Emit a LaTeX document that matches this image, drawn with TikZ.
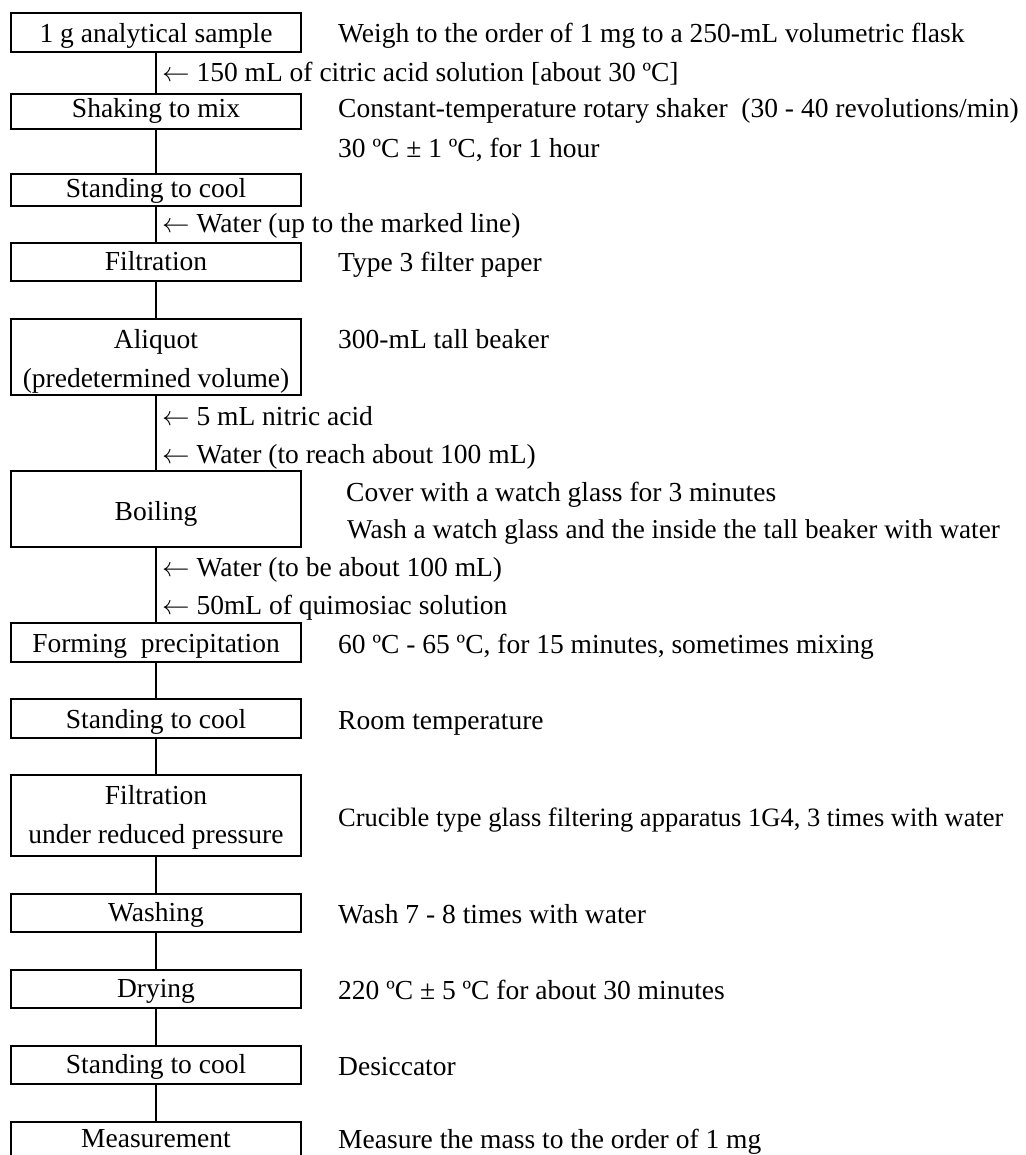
\RequirePackage{fix-cm}
\documentclass[tikz,border=0pt]{standalone}
\usepackage{fontspec}
\setmainfont{Liberation Serif}
\begin{document}
\begin{tikzpicture}[x=1pt,y=-1pt,
  every node/.style={font=\fontsize{27.5}{39}\selectfont, inner sep=0pt},
  stepbox/.style n args={3}{draw, line width=1.8pt, rectangle, minimum width=290pt,
     minimum height=#2-#1, text height=#3-#1, text depth=#2-#3},
  conn/.style={line width=1.8pt},
  note/.style={anchor=base west},
]
\path[use as bounding box, clip] (0,0) rectangle (1025,1155);

% process boxes: stepbox={top}{bottom}{baseline}
\node[stepbox={13}{52}{43}]     (b1)  at (156,32.5)  {1 g analytical sample};
\node[stepbox={94}{129}{118}]   (b2)  at (156,111.5) {Shaking to mix};
\node[stepbox={174}{206}{197.5}]  (b3)  at (156,190) {Standing to cool};
\node[stepbox={243}{281}{271}]  (b4)  at (156,262)   {Filtration};
\node[stepbox={319}{395}{387}]  (b5)  at (156,357)   {\begin{tabular}[b]{@{}c@{}}Aliquot\\(predetermined volume)\end{tabular}};
\node[stepbox={471}{547}{520}]  (b6)  at (156,509)   {Boiling};
\node[stepbox={623}{662}{652}]  (b7)  at (156,642.5) {Forming\ \ precipitation};
\node[stepbox={699}{738}{728}]  (b8)  at (156,718.5) {Standing to cool};
\node[stepbox={775}{856}{843}]  (b9)  at (156,815.5) {\begin{tabular}[b]{@{}c@{}}Filtration\\under reduced pressure\end{tabular}};
\node[stepbox={894}{932}{921}]  (b10) at (156,913)   {Washing};
\node[stepbox={970}{1008}{997}] (b11) at (156,989)   {Drying};
\node[stepbox={1046}{1084}{1073}] (b12) at (156,1065) {Standing to cool};
\node[stepbox={1122}{1172}{1147}] (b13) at (156,1147) {Measurement};

% connectors
\foreach \a/\b in {b1/b2,b2/b3,b3/b4,b4/b5,b5/b6,b6/b7,b7/b8,b8/b9,b9/b10,b10/b11,b11/b12,b12/b13}
  \draw[conn] (\a) -- (\b);

% additions along the flow
\node[note] (a1) at (162,82)  {$\leftarrow$ 150 mL of citric acid solution [about 30 ºC]};
\node[note] (a2) at (162,233) {$\leftarrow$ Water (up to the marked line)};
\node[note] (a3) at (162,425) {$\leftarrow$ 5 mL nitric acid};
\node[note] (a4) at (162,463) {$\leftarrow$ Water (to reach about 100 mL)};
\node[note] (a5) at (162,576) {$\leftarrow$ Water (to be about 100 mL)};
\node[note] (a6) at (162,614) {$\leftarrow$ 50mL of quimosiac solution};

% conditions
\node[note] (r1)  at (338,43)   {Weigh to the order of 1 mg to a 250-mL volumetric flask};
\node[note] (r2)  at (338,118)  {Constant-temperature rotary shaker\ \ (30 - 40 revolutions/min)};
\node[note] (r3)  at (338,158)  {30 ºC ± 1 ºC, for 1 hour};
\node[note] (r4)  at (338,272)  {Type 3 filter paper};
\node[note] (r5)  at (338,348)  {300-mL tall beaker};
\node[note] (r6)  at (346,501)  {Cover with a watch glass for 3 minutes};
\node[note, font=\fontsize{27.2}{39}\selectfont] (r7)  at (347,538)  {Wash a watch glass and the inside the tall beaker with water};
\node[note] (r8)  at (338,653)  {60 ºC - 65 ºC, for 15 minutes, sometimes mixing};
\node[note] (r9)  at (338,729)  {Room temperature};
\node[note, font=\fontsize{26.5}{39}\selectfont] (r10) at (338,826)  {Crucible type glass filtering apparatus 1G4, 3 times with water};
\node[note] (r11) at (338,923)  {Wash 7 - 8 times with water};
\node[note] (r12) at (338,999)  {220 ºC ± 5 ºC for about 30 minutes};
\node[note] (r13) at (338,1075) {Desiccator};
\node[note] (r14) at (338,1148) {Measure the mass to the order of 1 mg};
\end{tikzpicture}
\end{document}
